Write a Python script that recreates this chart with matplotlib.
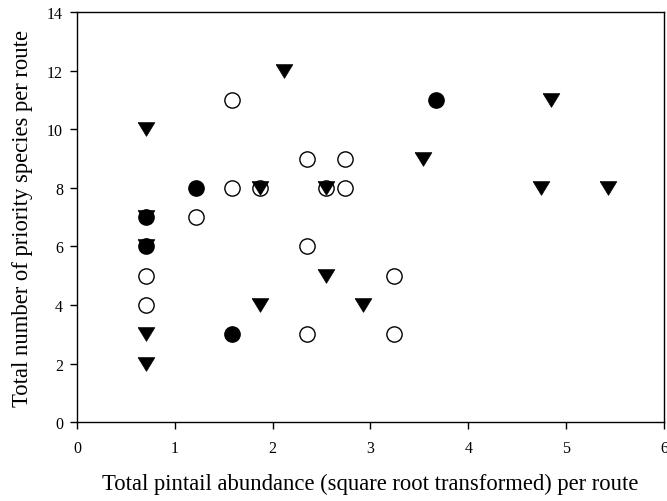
import matplotlib.pyplot as plt

# filled triangles (down)
tri_x = [0.71, 0.71, 0.71, 0.71, 0.71, 2.12, 1.87, 2.55, 1.87, 2.55, 2.92, 3.54, 4.85, 4.74, 5.43]
tri_y = [10, 3, 2, 7, 6, 12, 8, 8, 4, 5, 4, 9, 11, 8, 8]

# filled circles
fc_x = [0.71, 0.71, 1.22, 1.58, 3.67]
fc_y = [7, 6, 8, 3, 11]

# open circles
oc_x = [0.71, 0.71, 1.22, 1.58, 1.58, 1.87, 2.35, 2.35, 2.35, 2.55, 2.74, 2.74, 3.24, 3.24]
oc_y = [5, 4, 7, 11, 8, 8, 9, 6, 3, 8, 9, 8, 5, 3]

plt.rcParams['font.family'] = ['Liberation Serif', 'DejaVu Serif']

# slightly flattened down-triangle
tri_marker = [(-1, 0.82), (1, 0.82), (0, -0.82), (-1, 0.82)]

fig = plt.figure(figsize=(6.67, 5.02), dpi=100)
ax = fig.add_axes([0.1154, 0.157, 0.880, 0.817])

ax.plot(oc_x, oc_y, 'o', ls='none', ms=11, mfc='white', mec='black', mew=1, zorder=2)
ax.plot(tri_x, tri_y, marker=tri_marker, ls='none', ms=12, mfc='black', mec='black', mew=0.5, zorder=3)
ax.plot(fc_x, fc_y, 'o', ls='none', ms=11, mfc='black', mec='black', mew=1, zorder=4)

ax.set_xlim(0, 6)
ax.set_ylim(0, 14)
ax.set_xticks(range(0, 7))
ax.set_yticks(range(0, 15, 2))
ax.tick_params(direction='out', length=5, width=1, labelsize=11.5, top=False, right=False)
ax.tick_params(axis='x', pad=8)
ax.tick_params(axis='y', pad=5)
for s in ax.spines.values():
    s.set_linewidth(1)

ax.set_xlabel('Total pintail abundance (square root transformed) per route', fontsize=16.3, labelpad=12)
ax.set_ylabel('Total number of priority species per route', fontsize=16.3, labelpad=10)

fig.savefig('out.png', dpi=100)
